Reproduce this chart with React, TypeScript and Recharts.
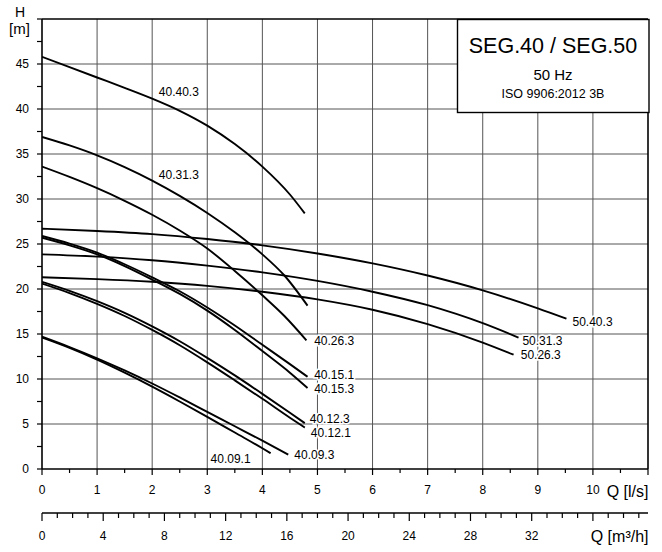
import { LineChart, Line, XAxis, YAxis, ReferenceLine, ReferenceDot } from 'recharts'

const FONT = '"Liberation Sans", Arial, Helvetica, sans-serif'

// pump curves, [Q l/s, H m]
const seg40_40_3 = [[0, 45.8], [0.5, 44.65], [1, 43.5], [1.5, 42.35], [2, 41.15], [2.5, 39.8], [3, 38.15], [3.5, 36.1], [4, 33.6], [4.5, 30.5], [4.77, 28.4]]
const seg40_31_3 = [[0, 36.9], [0.5, 35.95], [1, 34.85], [1.5, 33.55], [2, 32.05], [2.5, 30.35], [3, 28.45], [3.5, 26.3], [4, 23.85], [4.4, 21.5], [4.82, 18.15]]
const seg40_26_3 = [[0, 33.6], [0.5, 32.45], [1, 31.2], [1.5, 29.8], [2, 28.25], [2.5, 26.5], [3, 24.5], [3.5, 22.0], [4, 19.3], [4.4, 17.0], [4.8, 14.3]]
const seg40_15_1 = [[0, 25.9], [0.5, 25.05], [1, 24.05], [1.5, 22.75], [2, 21.3], [2.5, 19.75], [3, 17.95], [3.5, 15.95], [4, 13.8], [4.5, 11.65], [4.82, 10.25]]
const seg40_15_3 = [[0, 25.7], [0.5, 24.85], [1, 23.85], [1.5, 22.55], [2, 21.05], [2.5, 19.45], [3, 17.6], [3.5, 15.45], [4, 13.1], [4.5, 10.7], [4.82, 9.0]]
const seg40_12_3 = [[0, 20.8], [0.5, 19.8], [1, 18.65], [1.5, 17.35], [2, 15.85], [2.5, 14.2], [3, 12.35], [3.5, 10.4], [4, 8.35], [4.5, 6.25], [4.77, 5.1]]
const seg40_12_1 = [[0, 20.6], [0.5, 19.55], [1, 18.35], [1.5, 17.0], [2, 15.45], [2.5, 13.75], [3, 11.85], [3.5, 9.85], [4, 7.8], [4.5, 5.7], [4.77, 4.6]]
const seg40_09_3 = [[0, 14.7], [0.5, 13.55], [1, 12.3], [1.5, 10.95], [2, 9.5], [2.5, 7.95], [3, 6.35], [3.5, 4.75], [4, 3.15], [4.47, 1.6]]
const seg40_09_1 = [[0, 14.6], [0.5, 13.45], [1, 12.15], [1.5, 10.7], [2, 9.15], [2.5, 7.5], [3, 5.8], [3.5, 4.05], [4, 2.3], [4.15, 1.75]]
const seg50_40_3 = [[0, 26.7], [1, 26.45], [2, 26.1], [3, 25.55], [4, 24.85], [5, 23.95], [6, 22.85], [7, 21.5], [8, 19.85], [9, 17.85], [9.52, 16.7]]
const seg50_31_3 = [[0, 23.85], [1, 23.6], [2, 23.2], [3, 22.6], [4, 21.85], [5, 20.9], [6, 19.7], [7, 18.2], [8, 16.2], [8.65, 14.6]]
const seg50_26_3 = [[0, 21.3], [1, 21.1], [2, 20.8], [3, 20.35], [4, 19.7], [5, 18.85], [6, 17.7], [7, 16.1], [8, 14.05], [8.56, 12.7]]

const curves = [
  { name: '40.40.3', points: seg40_40_3 },
  { name: '40.31.3', points: seg40_31_3 },
  { name: '40.26.3', points: seg40_26_3 },
  { name: '40.15.1', points: seg40_15_1 },
  { name: '40.15.3', points: seg40_15_3 },
  { name: '40.12.3', points: seg40_12_3 },
  { name: '40.12.1', points: seg40_12_1 },
  { name: '40.09.3', points: seg40_09_3 },
  { name: '40.09.1', points: seg40_09_1 },
  { name: '50.40.3', points: seg50_40_3 },
  { name: '50.31.3', points: seg50_31_3 },
  { name: '50.26.3', points: seg50_26_3 },
]

// where each curve name sits (left edge, middle of text)
const labelNames = ['40.40.3', '40.31.3', '40.26.3', '40.15.1', '40.15.3', '40.12.3', '40.12.1', '40.09.3', '40.09.1', '50.40.3', '50.31.3', '50.26.3']
const labelQ = [2.12, 2.12, 4.94, 4.94, 4.94, 4.86, 4.88, 4.58, 3.06, 9.63, 8.72, 8.69]
const labelH = [41.9, 32.7, 14.3, 10.5, 8.9, 5.55, 4.0, 1.6, 1.2, 16.4, 14.3, 12.7]

const qTicks = Array.from({ length: 23 }, (_, i) => i * 0.5) // 0 .. 11 l/s
const m3Ticks = Array.from({ length: 40 }, (_, i) => i) // 0 .. 39 m3/h
const m3Range = [0, 39.6] // 11 l/s = 39.6 m3/h
const hTicks = Array.from({ length: 21 }, (_, i) => i * 2.5) // 0 .. 50 m
const gridQ = [1, 2, 3, 4, 5, 6, 7, 8, 9, 10]
const gridH = [5, 10, 15, 20, 25, 30, 35, 40, 45]

function QTick(props: any) {
  const { x, y, payload } = props
  const v = payload.value
  const major = Number.isInteger(v)
  return (
    <g>
      <line x1={x} x2={x} y1={y} y2={y + (major ? 6 : 4)} stroke="#000" strokeWidth={1.2} />
      {major && v <= 10 && (
        <text x={x} y={y + 25.3} textAnchor="middle" fontSize={12} fontFamily={FONT} fill="#000">
          {v}
        </text>
      )}
    </g>
  )
}

function M3Tick(props: any) {
  const { x, y, payload } = props
  const v = payload.value
  const major = v % 4 === 0
  return (
    <g>
      <line x1={x} x2={x} y1={y} y2={y + (major ? 8 : 5)} stroke="#000" strokeWidth={1.2} />
      {major && v <= 32 && (
        <text x={x} y={y + 27} textAnchor="middle" fontSize={12} fontFamily={FONT} fill="#000">
          {v}
        </text>
      )}
    </g>
  )
}

export default function App() {
  return (
    <div style={{ position: 'absolute', left: 0, top: 0, width: 662, height: 552, background: '#fff', fontFamily: FONT }}>
      <LineChart width={662} height={552} margin={{ top: 19, right: 14, left: 0, bottom: 0 }}>
        <XAxis
          xAxisId="ls"
          dataKey="q"
          type="number"
          domain={[0, 11]}
          ticks={qTicks}
          interval={0}
          allowDataOverflow
          height={44}
          tickSize={0}
          tickMargin={0}
          tickLine={false}
          tick={(p: any) => <QTick {...p} />}
          axisLine={{ stroke: '#000', strokeWidth: 1.6 }}
        />
        <XAxis
          xAxisId="m3h"
          dataKey="m"
          type="number"
          domain={[0, 39.6]}
          ticks={m3Ticks}
          interval={0}
          allowDataOverflow
          height={39}
          tickSize={0}
          tickMargin={0}
          tickLine={false}
          tick={(p: any) => <M3Tick {...p} />}
          axisLine={{ stroke: '#000', strokeWidth: 1.6 }}
        />
        <YAxis
          type="number"
          domain={[0, 50]}
          ticks={hTicks}
          interval={0}
          width={42}
          tickSize={5}
          tickMargin={8}
          tickLine={{ stroke: '#000', strokeWidth: 1.2 }}
          axisLine={{ stroke: '#000', strokeWidth: 1.6 }}
          tick={{ fill: '#000', fontSize: 12, fontFamily: FONT }}
          tickFormatter={(v: number) => (v % 5 === 0 && v < 50 ? String(v) : '')}
        />
        {gridQ.map((v) => (
          <ReferenceLine key={'gq' + v} xAxisId="ls" x={v} stroke="#555" strokeWidth={1} />
        ))}
        {gridH.map((v) => (
          <ReferenceLine key={'gh' + v} xAxisId="ls" y={v} stroke="#555" strokeWidth={1} />
        ))}
        <ReferenceLine xAxisId="ls" x={11} stroke="#000" strokeWidth={1.6} />
        <ReferenceLine xAxisId="ls" y={50} stroke="#000" strokeWidth={1.6} />
        {/* invisible series so the m3/h axis gets a scale */}
        <Line
          xAxisId="m3h"
          data={m3Range.map((m) => ({ m, h: 0 }))}
          dataKey="h"
          stroke="none"
          dot={false}
          activeDot={false}
          legendType="none"
          isAnimationActive={false}
        />
        {curves.map((c) => (
          <Line
            key={c.name}
            xAxisId="ls"
            data={c.points.map(([q, h]) => ({ q, h }))}
            dataKey="h"
            type="monotone"
            stroke="#000"
            strokeWidth={1.9}
            dot={false}
            activeDot={false}
            isAnimationActive={false}
          />
        ))}
        {labelNames.map((name, i) => (
          <ReferenceDot
            key={'lbl' + name}
            xAxisId="ls"
            x={labelQ[i]}
            y={labelH[i]}
            r={1}
            shape={(p: any) => (
              <text
                x={p.cx}
                y={p.cy}
                dy="0.36em"
                fontSize={12}
                fontFamily={FONT}
                fill="#000"
                stroke="#fff"
                strokeWidth={3}
                paintOrder="stroke"
              >
                {name}
              </text>
            )}
          />
        ))}
      </LineChart>
      <svg width={662} height={552} style={{ position: 'absolute', left: 0, top: 0, pointerEvents: 'none' }} fontFamily={FONT}>
        <text x={15} y={16.7} fontSize={14} fill="#000">H</text>
        <text x={9} y={33.5} fontSize={15} fill="#000">[m]</text>
        <text x={648.5} y={497} textAnchor="end" fontSize={16} fill="#000">Q [l/s]</text>
        <text x={648.5} y={541.5} textAnchor="end" fontSize={16} fill="#000">Q [m³/h]</text>
        <rect x={457.5} y={19.5} width={191.5} height={93} fill="#fff" stroke="#000" strokeWidth={1.4} />
        <text x={553} y={53.3} textAnchor="middle" fontSize={21.5} fill="#000">SEG.40 / SEG.50</text>
        <text x={553} y={79.7} textAnchor="middle" fontSize={15} fill="#000">50 Hz</text>
        <text x={553} y={97.7} textAnchor="middle" fontSize={12.5} fill="#000">ISO 9906:2012 3B</text>
      </svg>
    </div>
  )
}
